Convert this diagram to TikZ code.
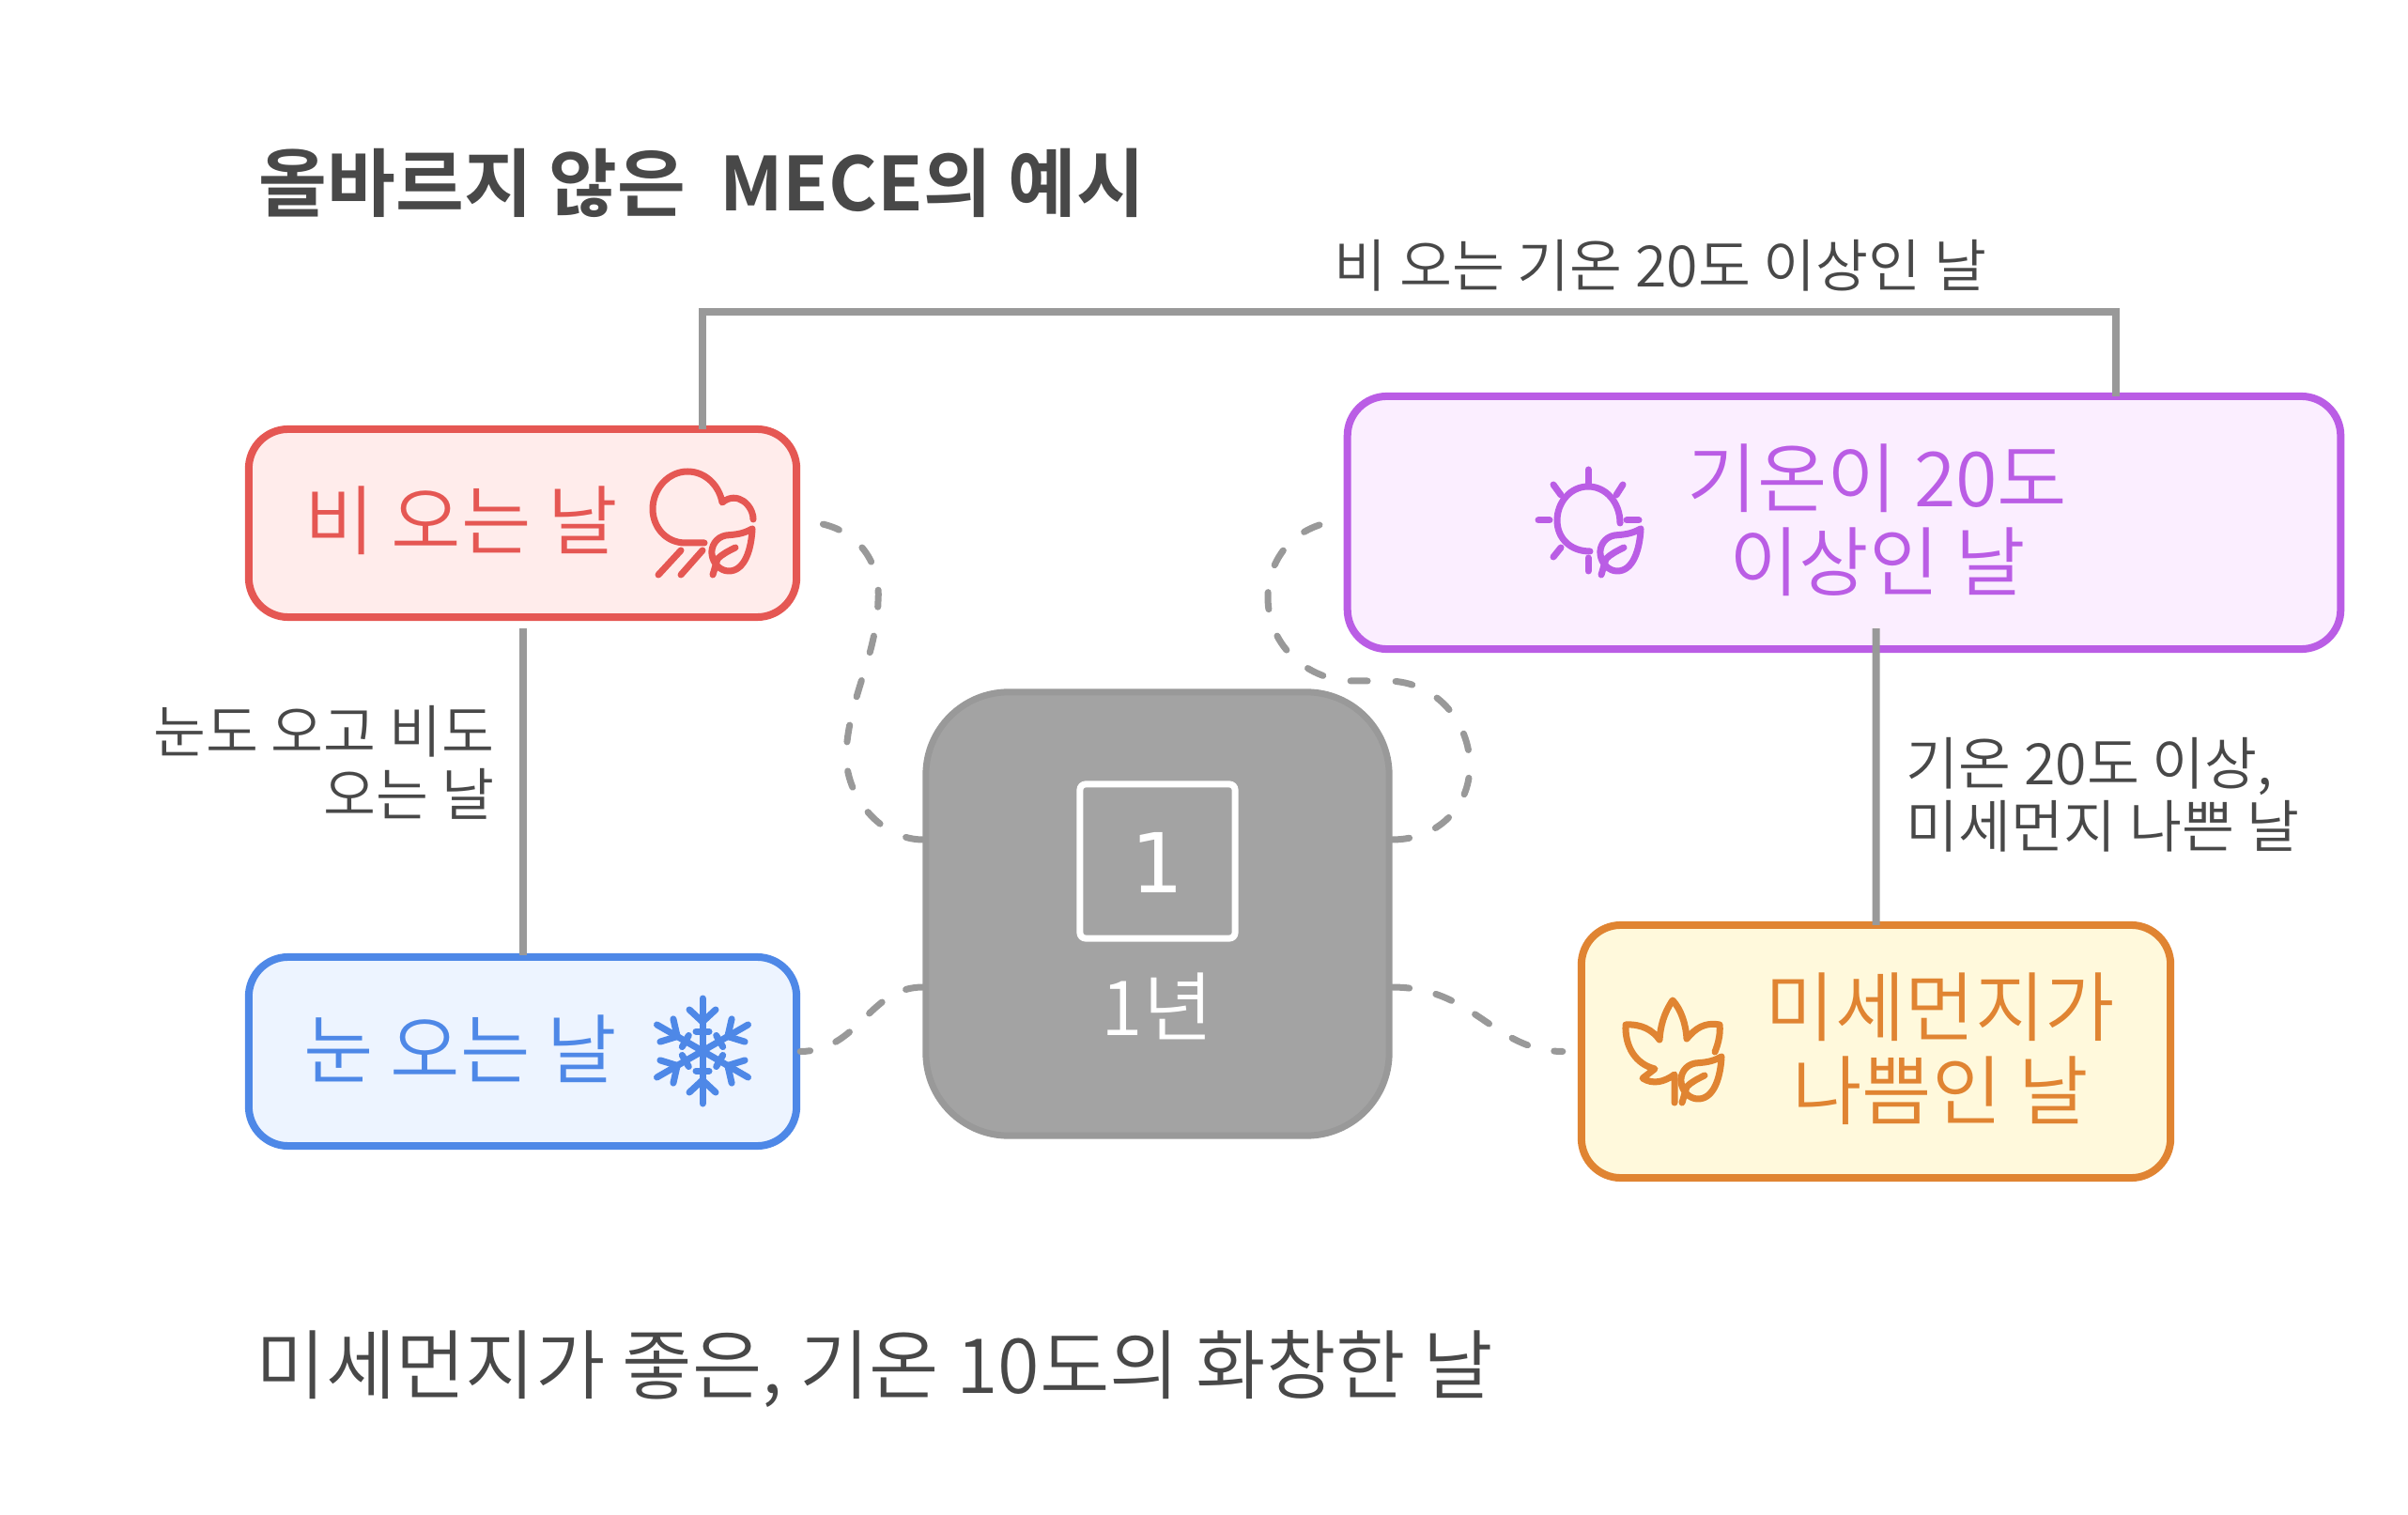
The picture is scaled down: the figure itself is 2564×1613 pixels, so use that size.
\documentclass[tikz,border=0pt]{standalone}
\usepackage{fontspec}
\usepackage{xcolor}
\usetikzlibrary{arrows.meta}
\setmainfont{Liberation Sans}
\newfontfamily\krfont{Noto Sans CJK KR DemiLight}
\newfontfamily\krbold{Noto Sans CJK KR Bold}
\newfontfamily\onefont{DejaVu Sans}

\definecolor{inkgray}{HTML}{484848}
\definecolor{linegray}{HTML}{999999}
\definecolor{yearfill}{HTML}{A3A3A3}
\definecolor{rainline}{HTML}{E55753}
\definecolor{rainfill}{HTML}{FFECEB}
\definecolor{snowline}{HTML}{4E88E7}
\definecolor{snowfill}{HTML}{EDF4FF}
\definecolor{hotline}{HTML}{BA5DE5}
\definecolor{hotfill}{HTML}{FBEEFF}
\definecolor{dustline}{HTML}{E08432}
\definecolor{dustfill}{HTML}{FFF9DC}

\tikzset{
  daybox/.style={draw, line width=0.08cm, rounded corners=0.42cm},
  daytext/.style={inner sep=0, align=center, font=\krfont\fontsize{23}{25.3}\selectfont},
  sidetext/.style={inner sep=0, text=inkgray, font=\krfont\fontsize{17.3}{19}\selectfont},
  link/.style={draw=linegray, line width=0.08cm},
  dashlink/.style={draw=linegray, line width=0.07cm, line cap=round, dash pattern=on 0.18cm off 0.29cm},
  iconline/.style={line width=0.07cm, line cap=round, line join=round}
}

\newcommand{\leafmark}[3]{%
  \draw[iconline, #1, shift={(#2,#3)}] (801,563) .. controls (790,569) and (783,569) .. (773,570)
    .. controls (762,572) and (757,582) .. (758,590) .. controls (759,600) and (767,608) .. (776,608)
    .. controls (793,608) and (800,585) .. (801,563);
  \draw[iconline, #1, shift={(#2,#3)}] (759,612) -- (764,595) .. controls (769,590) and (775,587) .. (783,583);
}

\begin{document}
\begin{tikzpicture}[x=0.01cm,y=-0.01cm]
  \useasboundingbox (0,0) rectangle (2564,1613);

  % boxes
  \node[daybox, draw=rainline, fill=rainfill, minimum width=5.83cm, minimum height=2cm] (rainy) at (556.5,557) {};
  \node[daybox, draw=snowline, fill=snowfill, minimum width=5.83cm, minimum height=2.01cm] (snowy) at (556.5,1119.5) {};
  \node[daybox, draw=hotline, fill=hotfill, minimum width=10.57cm, minimum height=2.69cm] (hot) at (1963.5,556.5) {};
  \node[daybox, draw=dustline, fill=dustfill, minimum width=6.27cm, minimum height=2.69cm] (dusty) at (1997.5,1119.5) {};
  \node[draw=linegray, fill=yearfill, line width=0.07cm, rounded corners=0.88cm, minimum width=4.93cm, minimum height=4.72cm] (year) at (1232.5,973) {};
  \node[draw=white, line width=0.07cm, rounded corners=0.06cm, minimum width=1.65cm, minimum height=1.64cm] (yearmark) at (1232.5,917) {};

  % solid links
  \draw[link] ([xshift=1.915cm,yshift=-0.04cm]rainy.north) -- ++(0,-125) -| ([xshift=2.895cm,yshift=-0.04cm]hot.north);
  \draw[link] ([yshift=-0.08cm]rainy.south) -- ([yshift=-0.02cm]snowy.north);
  \draw[link] ([xshift=0.34cm,yshift=0.26cm]hot.south) -- ([yshift=-0.04cm]dusty.north);

  % dashed links
  \draw[dashlink, dash pattern=on 0.18cm off 0.312cm] ([yshift=0.79cm]year.west) .. controls (940,894) and (899,850) .. (901,800)
    .. controls (905,740) and (933,700) .. (935,640) .. controls (938,600) and (915,565) .. ([xshift=0.19cm]rainy.east);
  \draw[dashlink] ([yshift=-0.78cm]year.west) .. controls (925,1051) and (915,1119) .. (snowy.east);
  \draw[dashlink, dash pattern=on 0.18cm off 0.30cm] ([yshift=0.79cm]year.east) .. controls (1530,894) and (1565,860) .. (1565,815)
    .. controls (1565,770) and (1530,725) .. (1477,725) -- (1440,725)
    .. controls (1395,725) and (1350,690) .. (1350,636) .. controls (1350,600) and (1372,566) .. ([xshift=-0.17cm]hot.west);
  \draw[dashlink] ([yshift=-0.78cm]year.east) .. controls (1570,1051) and (1590,1119) .. ([xshift=-0.16cm]dusty.west);

  % texts
  \node[anchor=west, inner sep=0, text=inkgray, font=\krbold\fontsize{22.5}{25}\selectfont] (title) at (275,195) {올바르지 않은 \ MECE의 예시};
  \node[anchor=west, inner sep=0, text=inkgray, font=\krfont\fontsize{23}{25}\selectfont] (note) at (272,1457) {미세먼지가 좋은, 기온 10도의 화창한 날};
  \node[sidetext, anchor=west] (toplabel) at (1420,283) {비 오는 기온 20도 이상인 날};
  \node[sidetext, anchor=east, align=right] (leftlabel) at (527,812) {눈도 오고 비도\\오는 날};
  \node[sidetext, anchor=west, align=left] (rightlabel) at (2029,846) {기온 20도 이상,\\미세먼지 나쁜 날};
  \node[daytext, text=rainline] (rainytext) at (491,554) {비 오는 날};
  \node[daytext, text=snowline] (snowytext) at (490,1117) {눈 오는 날};
  \node[daytext, text=hotline] (hottext) at (1999,554) {기온이 20도\\이상인 날};
  \node[daytext, text=dustline] (dustytext) at (2066,1117) {미세먼지가\\나쁨인 날};
  \node[daytext, text=white] (yeartext) at (1232,1071) {1년};
  \node[inner sep=0, text=white, font=\onefont\fontsize{25}{26}\selectfont] (yearone) at (1232,918) {1};

  % rain icon
  \draw[iconline, rainline] (750,578) -- (730,578) .. controls (708,578) and (695,560) .. (695,542)
    .. controls (695,520) and (712,502) .. (732,502) .. controls (752,502) and (766,518) .. (769,535)
    .. controls (785,522) and (802,538) .. (802,553);
  \draw[iconline, rainline] (725,586) -- (701,612);
  \draw[iconline, rainline] (748,586) -- (725,612);
  \leafmark{rainline}{0}{0}

  % snow icon
  \foreach \a in {0,60,...,300} {
    \begin{scope}[rotate around={\a:(748,1119)}]
      \draw[iconline, snowline, line width=0.07cm] (748,1119) -- (748,1063);
      \draw[iconline, snowline, line width=0.07cm] (734,1075) -- (748,1088) -- (762,1075);
      \draw[iconline, snowline, line width=0.07cm] (741,1098) -- (755,1098);
    \end{scope}
  }

  % sun icon
  \draw[iconline, hotline] (1725,557) .. controls (1725,535) and (1710,518) .. (1691,518)
    .. controls (1672,518) and (1658,535) .. (1658,554) .. controls (1658,573) and (1672,587) .. (1693,587);
  \draw[iconline, hotline] (1691,500) -- (1691,515);
  \draw[iconline, hotline] (1654,516) -- (1662,527);
  \draw[iconline, hotline] (1728,516) -- (1721,527);
  \draw[iconline, hotline] (1638,554) -- (1650,554);
  \draw[iconline, hotline] (1732,554) -- (1745,554);
  \draw[iconline, hotline] (1662,583) -- (1654,593);
  \draw[iconline, hotline] (1691,594) -- (1691,608);
  \leafmark{hotline}{946}{0}

  % maple icon
  \draw[iconline, dustline] (1826,1120) .. controls (1830,1110) and (1832,1100) .. (1831,1091)
    .. controls (1815,1088) and (1805,1095) .. (1796,1106) .. controls (1795,1090) and (1790,1075) .. (1781,1065)
    .. controls (1772,1078) and (1768,1092) .. (1767,1107) .. controls (1760,1097) and (1748,1090) .. (1731,1091)
    .. controls (1730,1115) and (1742,1133) .. (1762,1138) -- (1749,1148)
    .. controls (1760,1155) and (1772,1152) .. (1783,1144) -- (1783,1174);
  \leafmark{dustline}{1032}{562}
\end{tikzpicture}
\end{document}
